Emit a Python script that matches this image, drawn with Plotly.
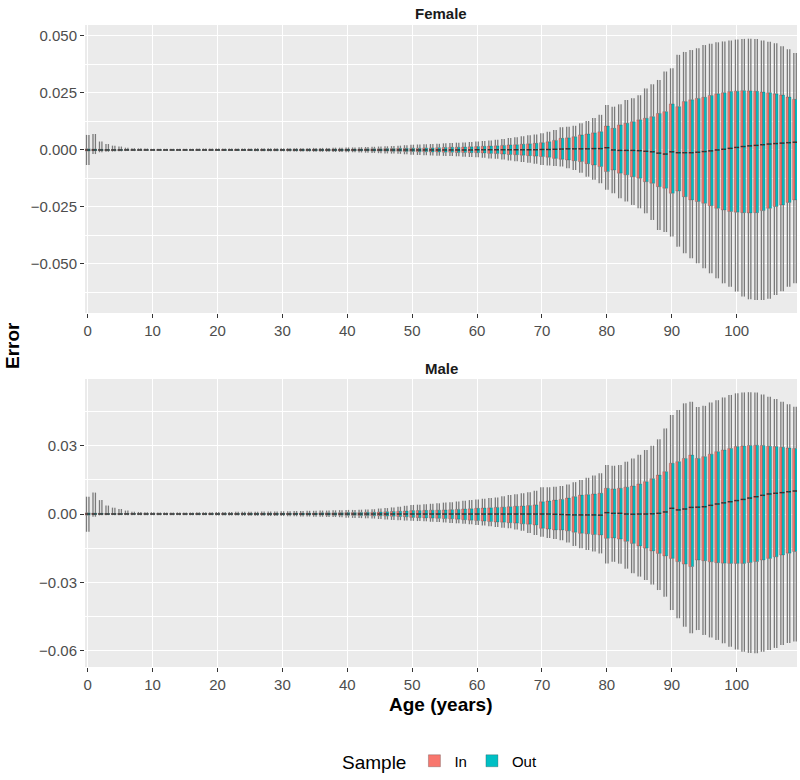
import plotly.graph_objects as go

# ---------------- data (error values in units of 1e-4) ----------------
UNIT = 1e-4
AGES = list(range(110))
SAMPLES = ["In", "Out"]
SAMPLE_COLORS = ["#F8766D", "#00BFC4"]
X_TICKS = [0, 10, 20, 30, 40, 50, 60, 70, 80, 90, 100]

F_UW = [66, 70, 37, 26, 19, 15, 10, 8, 7, 6,
        5, 5, 5, 5, 5, 5, 5, 6, 6, 6,
        6, 6, 6, 6, 6, 6, 7, 7, 7, 7,
        7, 8, 8, 8, 8, 9, 9, 9, 10, 10,
        11, 11, 12, 13, 14, 15, 16, 17, 19, 21,
        23, 24, 25, 26, 27, 29, 30, 32, 33, 35,
        37, 39, 42, 45, 48, 52, 56, 60, 64, 68,
        73, 80, 88, 100, 102, 106, 117, 127, 140, 154,
        197, 190, 200, 219, 227, 240, 270, 288, 307, 344,
        358, 417, 430, 438, 446, 460, 466, 472, 476, 480,
        484, 487, 488, 487, 480, 475, 468, 455, 442, 425]
F_Q3 = [5, 4, 3, 2, 2, 2, 2, 1, 1, 1,
        1, 1, 1, 1, 1, 1, 1, 1, 1, 1,
        2, 2, 2, 2, 2, 2, 2, 2, 2, 2,
        2, 3, 3, 3, 3, 3, 3, 3, 4, 4,
        4, 4, 4, 5, 5, 5, 6, 6, 7, 7,
        8, 8, 9, 9, 10, 11, 12, 12, 13, 14,
        15, 16, 17, 18, 20, 22, 23, 25, 27, 29,
        32, 36, 42, 51, 53, 58, 66, 70, 75, 80,
        105, 95, 110, 117, 124, 132, 139, 146, 160, 168,
        202, 190, 212, 220, 226, 231, 239, 246, 251, 256,
        258, 260, 259, 257, 254, 251, 246, 241, 232, 222]
F_MED = [0, 0, 0, 0, 0, 0, 0, 0, 0, 0,
         0, 0, 0, 0, 0, 0, 0, 0, 0, 0,
         0, 0, 0, 0, 0, 0, 0, 0, 0, 0,
         0, 0, 0, 0, 0, 0, 0, 0, 0, 0,
         0, 0, 0, 0, 0, 0, 0, 0, 0, 0,
         0, 0, 0, 0, 0, 0, 0, 0, 0, 0,
         1, 1, 1, 1, 1, 1, 1, 1, 1, 1,
         2, 2, 3, 4, 5, 5, 5, 5, 6, 6,
         10, 0, -2, -2, -2, -3, -6, -8, -14, -18,
         -8, -12, -12, -12, -10, -7, -4, 0, 3, 7,
         11, 15, 18, 20, 23, 26, 28, 30, 32, 34]
F_Q1 = [-5, -3, -2, -2, -2, -2, -1, -1, -1, -1,
        -1, -1, -1, -1, -1, -1, -1, -1, -1, -1,
        -2, -2, -2, -2, -2, -2, -2, -2, -2, -2,
        -2, -2, -3, -3, -3, -3, -3, -3, -3, -4,
        -4, -4, -4, -4, -5, -5, -5, -6, -6, -7,
        -7, -8, -8, -9, -9, -10, -10, -11, -11, -12,
        -12, -13, -15, -16, -18, -20, -21, -23, -25, -27,
        -29, -32, -37, -41, -44, -47, -51, -60, -66, -73,
        -95, -88, -102, -109, -117, -124, -139, -146, -161, -168,
        -190, -180, -205, -219, -226, -234, -245, -256, -263, -270,
        -273, -275, -276, -275, -266, -256, -248, -241, -230, -219]
F_LW = [-66, -18, -10, -8, -7, -6, -5, -5, -4, -4,
        -4, -4, -4, -4, -4, -4, -4, -5, -5, -5,
        -5, -5, -5, -5, -5, -5, -6, -6, -6, -6,
        -6, -7, -7, -7, -7, -8, -8, -8, -9, -9,
        -10, -10, -11, -12, -13, -14, -15, -16, -17, -19,
        -21, -22, -23, -24, -25, -26, -27, -28, -30, -31,
        -32, -34, -37, -39, -42, -46, -49, -53, -56, -60,
        -66, -68, -70, -73, -80, -88, -100, -117, -131, -146,
        -175, -190, -212, -226, -241, -256, -278, -307, -351, -360,
        -380, -424, -453, -475, -497, -519, -541, -563, -585, -600,
        -621, -643, -655, -658, -658, -652, -636, -620, -600, -585]

M_UW = [76, 94, 61, 37, 28, 22, 15, 10, 9, 8,
        8, 7, 7, 7, 7, 7, 7, 8, 8, 8,
        9, 9, 9, 10, 10, 10, 10, 11, 11, 11,
        12, 12, 13, 13, 14, 14, 15, 15, 16, 17,
        18, 18, 19, 20, 21, 24, 26, 29, 32, 36,
        40, 41, 43, 45, 47, 50, 52, 55, 58, 61,
        64, 67, 70, 73, 78, 83, 87, 91, 96, 102,
        117, 118, 120, 123, 130, 140, 149, 159, 169, 179,
        215, 212, 215, 230, 244, 260, 281, 300, 328, 376,
        435, 457, 486, 493, 470, 475, 490, 500, 512, 523,
        530, 534, 535, 534, 525, 515, 505, 493, 482, 471]
M_Q3 = [5, 4, 3, 2, 2, 2, 2, 2, 1, 1,
        1, 1, 1, 1, 1, 1, 2, 2, 2, 2,
        2, 2, 2, 2, 3, 3, 3, 3, 3, 3,
        3, 3, 4, 4, 4, 4, 5, 5, 5, 6,
        7, 7, 7, 8, 8, 9, 10, 11, 12, 13,
        15, 15, 16, 17, 17, 18, 19, 20, 22, 23,
        25, 26, 27, 29, 30, 32, 34, 35, 37, 40,
        54, 57, 61, 64, 70, 76, 83, 85, 88, 91,
        113, 110, 113, 118, 123, 132, 142, 155, 171, 186,
        223, 230, 244, 259, 244, 252, 263, 274, 281, 288,
        296, 299, 301, 302, 301, 298, 296, 293, 290, 288]
M_MED = [0, 0, 0, 0, 0, 0, 0, 0, 0, 0,
         0, 0, 0, 0, 0, 0, 0, 0, 0, 0,
         0, 0, 0, 0, 0, 0, 0, 0, 0, 0,
         0, 0, 0, 0, 0, 0, 0, 0, 0, 0,
         0, 0, 0, 0, 0, 0, 0, 0, 0, 0,
         0, 0, 0, 0, 0, 0, 0, 0, 0, 0,
         0, 0, 0, 0, 0, 0, 0, 0, 0, 0,
         0, 0, -1, -2, -3, -4, -4, -4, -4, -5,
         6, 3, 3, 0, -1, 0, 0, 1, 3, 9,
         25, 18, 22, 29, 30, 32, 38, 44, 49, 54,
         59, 64, 70, 76, 82, 88, 91, 94, 98, 101]
M_Q1 = [-5, -3, -2, -2, -2, -2, -1, -1, -1, -1,
        -1, -1, -1, -1, -1, -1, -2, -2, -2, -2,
        -2, -2, -2, -2, -2, -3, -3, -3, -3, -3,
        -3, -3, -3, -4, -4, -4, -4, -5, -5, -5,
        -6, -6, -7, -7, -8, -8, -9, -10, -11, -12,
        -15, -16, -17, -18, -19, -20, -21, -23, -25, -27,
        -29, -31, -33, -35, -36, -38, -40, -43, -45, -48,
        -63, -66, -70, -70, -74, -80, -85, -87, -90, -92,
        -107, -105, -110, -120, -129, -140, -150, -162, -173, -184,
        -195, -209, -220, -231, -202, -205, -210, -214, -216, -217,
        -217, -217, -213, -209, -202, -195, -188, -180, -172, -165]
M_LW = [-78, -12, -6, -5, -5, -5, -5, -5, -5, -5,
        -5, -5, -5, -5, -5, -5, -6, -6, -6, -6,
        -7, -7, -7, -7, -8, -8, -8, -8, -9, -9,
        -9, -10, -10, -11, -11, -12, -12, -13, -13, -14,
        -16, -17, -18, -19, -20, -22, -24, -26, -27, -29,
        -30, -31, -32, -34, -35, -37, -39, -41, -43, -45,
        -48, -51, -54, -57, -60, -63, -68, -74, -83, -92,
        -100, -105, -110, -115, -125, -140, -150, -158, -165, -173,
        -217, -210, -218, -240, -260, -275, -290, -310, -334, -363,
        -422, -458, -495, -524, -510, -531, -542, -553, -568, -583,
        -595, -605, -610, -612, -605, -597, -588, -575, -567, -560]

PANELS = [
    ("Female", F_LW, F_Q1, F_MED, F_Q3, F_UW),
    ("Male", M_LW, M_Q1, M_MED, M_Q3, M_UW),
]
for p in PANELS:
    for arr in p[1:]:
        assert len(arr) == len(AGES)

# ---------------- styling ----------------
DODGE = 0.75          # total dodge width per age (ggplot default)
BOX_W = DODGE / 2
OUTLINE = "#333333"
BOX_EDGE = "rgba(51,51,51,0.55)"
WHISKER = "#7a7a7a"
FONT = "Liberation Sans, Arial, sans-serif"

fig = go.Figure()

for pi, (sex, lw, q1, med, q3, uw) in enumerate(PANELS):
    xa = "x" if pi == 0 else "x2"
    ya = "y" if pi == 0 else "y2"
    s = lambda arr: [v * UNIT for v in arr]
    LW, Q1, MED, Q3, UW = s(lw), s(q1), s(med), s(q3), s(uw)
    for si, (samp, col) in enumerate(zip(SAMPLES, SAMPLE_COLORS)):
        offset = (si - 0.5) * BOX_W
        xs = [a + offset for a in AGES]
        # whiskers
        wx, wy = [], []
        for x, l, a, b, u in zip(xs, LW, Q1, Q3, UW):
            wx += [x, x, None, x, x, None]
            wy += [l, a, None, b, u, None]
        fig.add_trace(go.Scatter(x=wx, y=wy, mode="lines", xaxis=xa, yaxis=ya,
                                 line=dict(color=WHISKER, width=1.3),
                                 showlegend=False, hoverinfo="skip"))
        # boxes
        fig.add_trace(go.Box(x=xs, q1=Q1, median=MED, q3=Q3, lowerfence=Q1, upperfence=Q3,
                             xaxis=xa, yaxis=ya, name=samp, legendgroup=samp,
                             showlegend=(pi == 0), width=BOX_W, whiskerwidth=0,
                             fillcolor=col, line=dict(color=BOX_EDGE, width=0.5),
                             hoverinfo="skip"))
        # medians
        mx, my = [], []
        for x, m in zip(xs, MED):
            mx += [x - BOX_W / 2, x + BOX_W / 2, None]
            my += [m, m, None]
        fig.add_trace(go.Scatter(x=mx, y=my, mode="lines", xaxis=xa, yaxis=ya,
                                 line=dict(color=OUTLINE, width=1.4),
                                 showlegend=False, hoverinfo="skip"))

W, H = 800, 780
ML, MR, MT, MB = 85, 3, 25, 113
PH = H - MT - MB  # 642
female_bottom = (H - MB - 313) / PH
male_top = (H - MB - 379) / PH

xaxis_common = dict(range=[-0.42, 109.3], tickvals=X_TICKS, showgrid=True, gridcolor="white",
                    gridwidth=1.1, zeroline=False, ticks="outside", ticklen=4, tickcolor=OUTLINE,
                    tickwidth=1, tickfont=dict(size=15, color="#4d4d4d", family=FONT),
                    showline=False, automargin=False)
yaxis_common = dict(showgrid=True, gridcolor="white", gridwidth=1.1, zeroline=False,
                    ticks="outside", ticklen=4, tickcolor=OUTLINE, tickwidth=1,
                    tickfont=dict(size=15, color="#4d4d4d", family=FONT), showline=False,
                    automargin=False)

fig.update_layout(
    width=W, height=H,
    margin=dict(l=ML, r=MR, t=MT, b=MB, autoexpand=False),
    paper_bgcolor="white", plot_bgcolor="#EBEBEB",
    boxmode="overlay", boxgap=0, boxgroupgap=0,
    xaxis=dict(**xaxis_common, domain=[0, 1], anchor="y"),
    yaxis=dict(**yaxis_common, domain=[female_bottom, 1], anchor="x",
               range=[-0.0715, 0.0548], tickvals=[-0.05, -0.025, 0, 0.025, 0.05],
               tickformat=".3f",
               minor=dict(dtick=0.0125, tick0=0, showgrid=True, gridcolor="white",
                          gridwidth=0.5, ticklen=0)),
    xaxis2=dict(**xaxis_common, domain=[0, 1], anchor="y2"),
    yaxis2=dict(**yaxis_common, domain=[0, male_top], anchor="x2",
                range=[-0.0672, 0.0593], tickvals=[-0.06, -0.03, 0, 0.03],
                tickformat=".2f",
                minor=dict(dtick=0.015, tick0=0, showgrid=True, gridcolor="white",
                           gridwidth=0.5, ticklen=0)),
    showlegend=True,
    legend=dict(orientation="h", x=0.5, xanchor="center", y=(H - MB - 762) / PH,
                yanchor="middle", font=dict(size=15, family=FONT, color="black"),
                title=dict(text="Sample", side="left", font=dict(size=19, family=FONT)),
                itemwidth=30, bgcolor="rgba(0,0,0,0)"),
    font=dict(family=FONT),
)

def py(px):
    return (H - MB - px) / PH

ann = [
    dict(text="<b>Female</b>", x=0.5, y=py(14), xref="paper", yref="paper",
         showarrow=False, font=dict(size=15, color="#1a1a1a", family=FONT),
         xanchor="center", yanchor="middle"),
    dict(text="<b>Male</b>", x=0.5, y=py(368), xref="paper", yref="paper",
         showarrow=False, font=dict(size=15, color="#1a1a1a", family=FONT),
         xanchor="center", yanchor="middle"),
    dict(text="<b>Error</b>", x=(12 - ML) / (W - ML - MR), y=py(346), xref="paper",
         yref="paper", showarrow=False, textangle=-90,
         font=dict(size=19, color="black", family=FONT), xanchor="center", yanchor="middle"),
    dict(text="<b>Age (years)</b>", x=0.5, y=py(705), xref="paper", yref="paper",
         showarrow=False, font=dict(size=19, color="black", family=FONT),
         xanchor="center", yanchor="middle"),
]
fig.update_layout(annotations=ann)

fig.write_html("out.html", config={"displayModeBar": False},
               post_script="document.body.style.margin='0';document.body.style.padding='0';")
